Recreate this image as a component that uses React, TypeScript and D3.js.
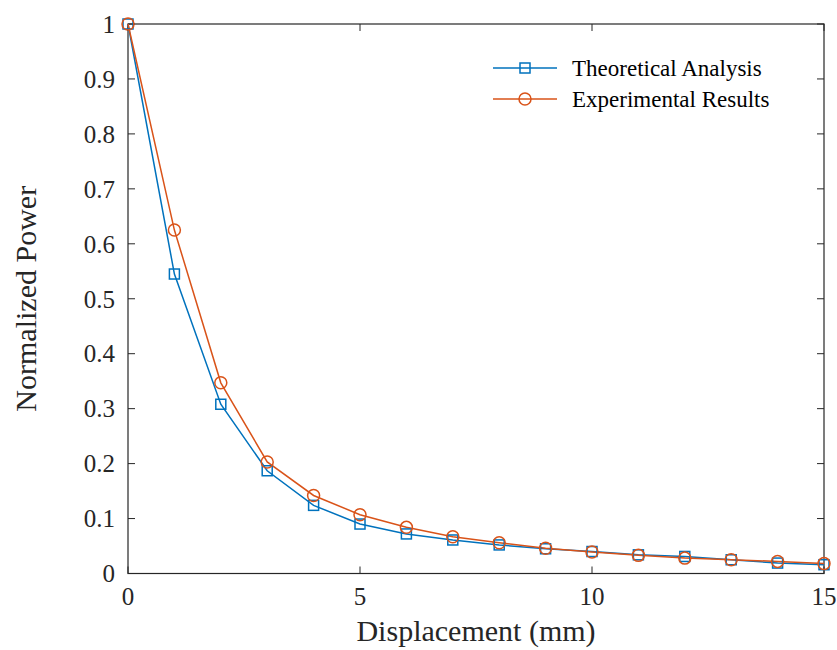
import React from "react";
import * as d3 from "d3";

const displacement = [0, 1, 2, 3, 4, 5, 6, 7, 8, 9, 10, 11, 12, 13, 14, 15];
const theoretical = [1.0, 0.545, 0.308, 0.187, 0.124, 0.09, 0.072, 0.061, 0.052, 0.045, 0.04, 0.034, 0.031, 0.025, 0.019, 0.016];
const experimental = [1.0, 0.625, 0.347, 0.203, 0.142, 0.107, 0.084, 0.067, 0.056, 0.046, 0.039, 0.033, 0.028, 0.025, 0.022, 0.018];
const xTicks = [0, 5, 10, 15];
const yTicks = [0, 0.1, 0.2, 0.3, 0.4, 0.5, 0.6, 0.7, 0.8, 0.9, 1];
const seriesNames = ["Theoretical Analysis", "Experimental Results"];

const BLUE = "#0072BD";
const ORANGE = "#D95319";
const FONT = "'Liberation Serif', 'Times New Roman', serif";

export default function App() {
  const W = 837, H = 650;
  const left = 128, right = 824, top = 24, bottom = 573.5;
  const x = d3.scaleLinear().domain([0, 15]).range([left, right]);
  const y = d3.scaleLinear().domain([0, 1]).range([bottom, top]);
  const line = d3.line<number>().x((_, i) => x(displacement[i])).y((d) => y(d));
  const tl = 7;
  const fmt = (v: number) => (v === 0 || v === 1 ? String(v) : String(+v.toFixed(1)));

  return (
    <svg width={W} height={H} style={{ position: "absolute", left: 0, top: 0, background: "#fff" }} fontFamily={FONT}>
      <rect x={0} y={0} width={W} height={H} fill="#fff" />
      {yTicks.map((t) => (
        <g key={"y" + t}>
          <line x1={left} x2={left + tl} y1={y(t)} y2={y(t)} stroke="#262626" strokeWidth={1} />
          <line x1={right} x2={right - tl} y1={y(t)} y2={y(t)} stroke="#262626" strokeWidth={1} />
          <text x={left - 13} y={y(t)} dy="0.35em" textAnchor="end" fontSize={25} fill="#262626">{fmt(t)}</text>
        </g>
      ))}
      {xTicks.map((t) => (
        <g key={"x" + t}>
          <line x1={x(t)} x2={x(t)} y1={bottom} y2={bottom - tl} stroke="#262626" strokeWidth={1} />
          <line x1={x(t)} x2={x(t)} y1={top} y2={top + tl} stroke="#262626" strokeWidth={1} />
          <text x={x(t)} y={605} textAnchor="middle" fontSize={25} fill="#262626">{t}</text>
        </g>
      ))}
      <rect x={left} y={top} width={right - left} height={bottom - top} fill="none" stroke="#262626" strokeWidth={1.2} />
      <path d={line(theoretical) || ""} fill="none" stroke={BLUE} strokeWidth={1.5} />
      <path d={line(experimental) || ""} fill="none" stroke={ORANGE} strokeWidth={1.5} />
      {theoretical.map((v, i) => (
        <rect key={"t" + i} x={x(displacement[i]) - 5} y={y(v) - 5} width={10} height={10} fill="none" stroke={BLUE} strokeWidth={1.5} />
      ))}
      {experimental.map((v, i) => (
        <circle key={"e" + i} cx={x(displacement[i])} cy={y(v)} r={6} fill="none" stroke={ORANGE} strokeWidth={1.5} />
      ))}
      <g>
        <line x1={493} x2={557} y1={68} y2={68} stroke={BLUE} strokeWidth={1.5} />
        <rect x={520} y={63} width={10} height={10} fill="none" stroke={BLUE} strokeWidth={1.5} />
        <text x={572} y={68} dy="0.35em" fontSize={23} fill="#000">{seriesNames[0]}</text>
        <line x1={493} x2={557} y1={99} y2={99} stroke={ORANGE} strokeWidth={1.5} />
        <circle cx={525} cy={99} r={6} fill="none" stroke={ORANGE} strokeWidth={1.5} />
        <text x={572} y={99} dy="0.35em" fontSize={23} fill="#000">{seriesNames[1]}</text>
      </g>
      <text x={(left + right) / 2} y={641} textAnchor="middle" fontSize={30} fill="#262626">Displacement (mm)</text>
      <text transform={`translate(36, ${(top + bottom) / 2}) rotate(-90)`} textAnchor="middle" fontSize={30} fill="#262626">Normalized Power</text>
    </svg>
  );
}
